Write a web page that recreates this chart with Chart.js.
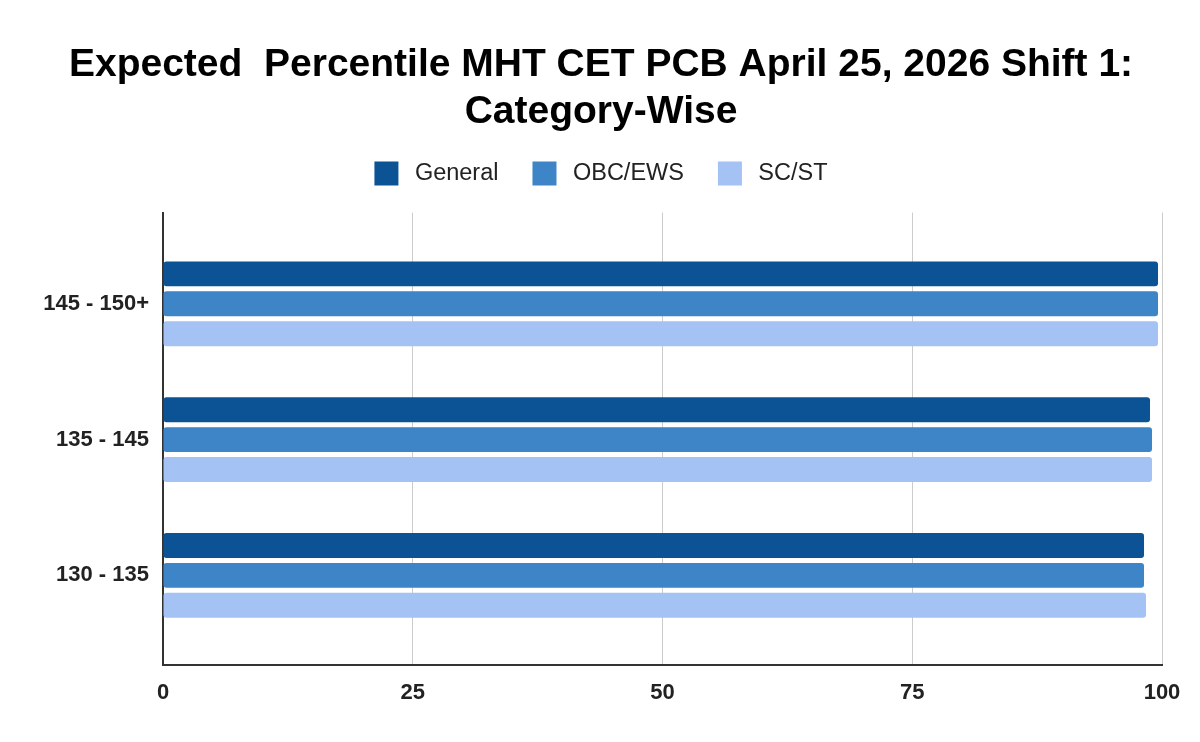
<!DOCTYPE html>
<html>
<head>
<meta charset="utf-8">
<title>Expected Percentile MHT CET PCB</title>
<script src="https://cdn.jsdelivr.net/npm/chart.js@4.4.1/dist/chart.umd.min.js"></script>
<style>
    html, body { margin: 0; padding: 0; background: #fff; }
    #wrap { width: 1200px; height: 742px; }
</style>
</head>
<body>
<div id="wrap"><canvas id="chart"></canvas></div>
<script>
// Score ranges (top to bottom) and expected percentile per category
const categories = ['145 - 150+', '135 - 145', '130 - 135'];
const general = [99.6, 98.8, 98.2];
const obcEws = [99.6, 99.0, 98.2];
const scSt = [99.6, 99.0, 98.4];
const xTicks = [0, 25, 50, 75, 100];

const titleLines = ['Expected  Percentile MHT CET PCB April 25, 2026 Shift 1:', 'Category-Wise'];

const FONT = '"Liberation Sans", Arial, sans-serif';

function toPoints(values) {
    return values.map((v, i) => ({ x: v, y: i }));
}

// legend height is fixed so the plot area starts where the reference one does
const legendHeightFix = {
    id: 'legendHeightFix',
    afterInit(chart) {
        const legend = chart.legend;
        const origFit = legend.fit;
        legend.fit = function() {
            origFit.call(this);
            this.height = 85;
        };
    }
};

const ctx = document.getElementById('chart').getContext('2d');
const chart = new Chart(ctx, {
    type: 'bar',
    data: {
        datasets: [
            { label: 'General', data: toPoints(general), backgroundColor: '#0b5394' },
            { label: 'OBC/EWS', data: toPoints(obcEws), backgroundColor: '#3d85c6' },
            { label: 'SC/ST', data: toPoints(scSt), backgroundColor: '#a4c2f4' }
        ]
    },
    plugins: [legendHeightFix],
    options: {
        indexAxis: 'y',
        responsive: true,
        maintainAspectRatio: false,
        animation: false,
        categoryPercentage: 0.662,
        barPercentage: 0.833,
        borderRadius: 3,
        borderSkipped: false,
        layout: {
            // left/right kept nearly equal so title and legend centre on the page
            padding: { left: 40, right: 38, top: 0, bottom: 0 }
        },
        plugins: {
            title: {
                display: true,
                text: titleLines,
                color: '#000',
                font: { family: FONT, size: 39, weight: 'bold', lineHeight: 1.2 },
                padding: { top: 42, bottom: -8 }
            },
            legend: {
                display: true,
                position: 'top',
                labels: {
                    boxWidth: 24,
                    boxHeight: 24,
                    padding: 34,
                    color: '#222',
                    font: { family: FONT, size: 23.5 },
                    generateLabels: (chart) => {
                        const items = Chart.defaults.plugins.legend.labels.generateLabels(chart);
                        items.forEach(item => { item.text = '\u2009' + item.text; });
                        return items;
                    }
                }
            },
            tooltip: { enabled: false }
        },
        scales: {
            x: {
                type: 'linear',
                min: 0,
                max: 100,
                afterBuildTicks: (scale) => { scale.ticks = xTicks.map(v => ({ value: v })); },
                afterFit: (scale) => { scale.height = 77; },
                grid: { color: '#cccccc', lineWidth: 1, drawTicks: false },
                border: { display: true, color: '#333333', width: 2 },
                ticks: {
                    padding: 15,
                    color: '#222',
                    font: { family: FONT, size: 22, weight: 'bold' }
                }
            },
            y: {
                type: 'linear',
                reverse: true,
                offset: false,
                bounds: 'data',
                min: -0.672,
                max: 2.66,
                afterBuildTicks: (scale) => { scale.ticks = categories.map((c, i) => ({ value: i })); },
                afterFit: (scale) => { scale.width = 123; },
                grid: { display: false, drawTicks: false, offset: false },
                border: { display: true, color: '#333333', width: 2 },
                ticks: {
                    padding: 14,
                    color: '#222',
                    callback: (value) => categories[value],
                    font: { family: FONT, size: 22, weight: 'bold' }
                }
            }
        }
    }
});
</script>
</body>
</html>
